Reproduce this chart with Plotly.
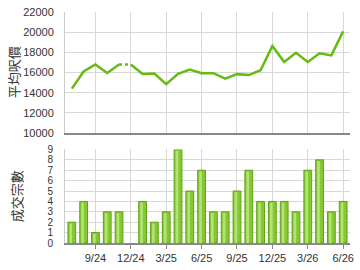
import plotly.graph_objects as go

months = ["7/24","8/24","9/24","10/24","11/24","12/24","1/25","2/25","3/25","4/25","5/25","6/25",
          "7/25","8/25","9/25","10/25","11/25","12/25","1/26","2/26","3/26","4/26","5/26","6/26"]
avg_price = [14400, 16100, 16800, 15950, 16800, 16800, 15850, 15900, 14850, 15870, 16290, 15940,
             15940, 15390, 15840, 15750, 16230, 18640, 17040, 17950, 17040, 17900, 17700, 20080]
deals = [2, 4, 1, 3, 3, 0, 4, 2, 3, 9, 5, 7, 3, 3, 5, 7, 4, 4, 4, 3, 7, 8, 3, 4]
tick_labels = ["9/24", "12/24", "3/25", "6/25", "9/25", "12/25", "3/26", "6/26"]

x = list(range(len(months)))
tickvals = [months.index(t) for t in tick_labels]
gap_idx = 4  # segment 11/24 -> 12/24 drawn dotted

line_col = "#66bb11"
fig = go.Figure()
fig.add_trace(go.Scatter(x=x[:gap_idx+1], y=avg_price[:gap_idx+1], mode="lines",
                         line=dict(color=line_col, width=2.5), xaxis="x", yaxis="y", hoverinfo="skip"))
fig.add_trace(go.Scatter(x=x[gap_idx+1:], y=avg_price[gap_idx+1:], mode="lines",
                         line=dict(color=line_col, width=2.5), xaxis="x", yaxis="y", hoverinfo="skip"))
fig.add_trace(go.Scatter(x=x[gap_idx:gap_idx+2], y=avg_price[gap_idx:gap_idx+2], mode="lines",
                         line=dict(color=line_col, width=2.5, dash="dot"), xaxis="x", yaxis="y", hoverinfo="skip"))
fig.add_trace(go.Bar(x=x, y=deals, width=0.66,
                     marker=dict(color="#86c832", line=dict(color="#5fa414", width=[1 if d > 0 else 0 for d in deals])),
                     xaxis="x2", yaxis="y2", hoverinfo="skip"))
fig.add_trace(go.Bar(x=x, y=[d - 0.12 if d > 0 else 0 for d in deals], width=0.22, offset=-0.2,
                     marker=dict(color="#b4e27a", line=dict(width=0)),
                     xaxis="x2", yaxis="y2", hoverinfo="skip"))

font = dict(family="Liberation Sans, Arial, sans-serif", size=11, color="#333333")
small_font = dict(family="Liberation Sans, Arial, sans-serif", size=10, color="#333333")
title_font = dict(family="Noto Sans CJK TC, sans-serif", size=13, color="#333333")
grid = "#d8d8d8"
xr = [-0.58, 23.58]

fig.update_layout(
    width=360, height=270, margin=dict(l=65, r=6, t=7, b=27),
    paper_bgcolor="white", plot_bgcolor="white", showlegend=False, barmode="overlay",
    font=font,
    xaxis=dict(domain=[0, 1], range=xr, tickvals=tickvals, showticklabels=False, showgrid=True,
               gridcolor=grid, gridwidth=1, showline=True, linecolor="#888888", linewidth=2,
               anchor="y", zeroline=False, ticks=""),
    yaxis=dict(domain=[0.476, 1], range=[10000, 22000], dtick=2000, tickformat="d", showgrid=True,
               gridcolor=grid, gridwidth=1, showline=True, linecolor="#cccccc", linewidth=1,
               zeroline=False, ticks="", ticklabelstandoff=8, tickfont=font),
    xaxis2=dict(domain=[0, 1], range=xr, tickvals=tickvals, ticktext=tick_labels, showgrid=True,
                gridcolor=grid, gridwidth=1, showline=True, linecolor="#888888", linewidth=2,
                anchor="y2", zeroline=False, ticks="outside", ticklen=4, tickcolor="#888888",
                tickfont=font),
    yaxis2=dict(domain=[0, 0.405], range=[0, 9], dtick=1, showgrid=True, gridcolor=grid,
                gridwidth=1, showline=True, linecolor="#cccccc", linewidth=1, zeroline=False,
                ticks="", ticklabelstandoff=9, tickfont=small_font),
    annotations=[
        dict(text="平均呎價", textangle=-90, xref="paper", yref="paper", x=-0.18, y=0.738,
             xanchor="center", yanchor="middle", showarrow=False, font=title_font),
        dict(text="成交宗數", textangle=-90, xref="paper", yref="paper", x=-0.17, y=0.2,
             xanchor="center", yanchor="middle", showarrow=False, font=title_font),
    ],
)

fig.write_html("out.html")
